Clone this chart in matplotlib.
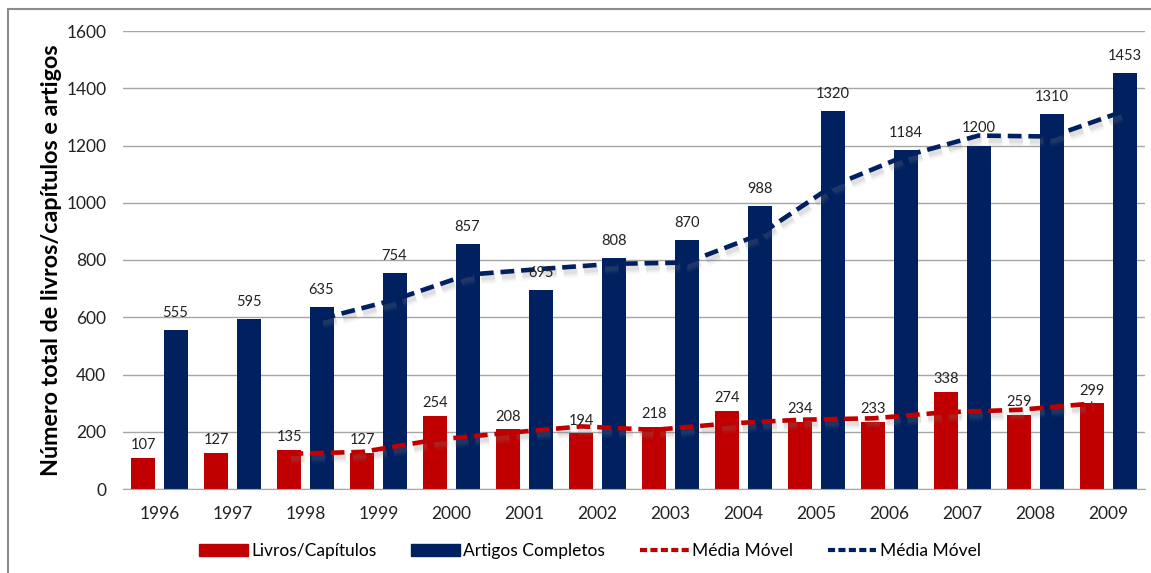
import numpy as np
import pandas as pd
import matplotlib
matplotlib.use("Agg")
import matplotlib.pyplot as plt
import matplotlib.patheffects as pe
from matplotlib.lines import Line2D
from matplotlib.patches import Patch, Rectangle

plt.rcParams["font.family"] = ["Lato", "DejaVu Sans"]

anos = [1996, 1997, 1998, 1999, 2000, 2001, 2002, 2003, 2004, 2005, 2006, 2007, 2008, 2009]
livros = [107, 127, 135, 127, 254, 208, 194, 218, 274, 234, 233, 338, 259, 299]
artigos = [555, 595, 635, 754, 857, 695, 808, 870, 988, 1320, 1184, 1200, 1310, 1453]

VERMELHO = "#C00000"
AZUL = "#002060"

# media movel de 3 periodos, como a linha de tendencia do Excel
mm_livros = pd.Series(livros).rolling(3).mean()
mm_artigos = pd.Series(artigos).rolling(3).mean()

fig = plt.figure(figsize=(11.51, 5.73), dpi=100)
ax = fig.add_axes([123 / 1151, 1 - 489 / 573, 1022 / 1151, 458 / 573])

x = np.arange(len(anos))
larg = 0.33
off = 0.22
ax.bar(x - off, livros, width=larg, color=VERMELHO, zorder=2)
ax.bar(x + off, artigos, width=larg, color=AZUL, zorder=2)

for xi, v in zip(x, livros):
    ax.text(xi - off, v + 45, str(v), ha="center", va="center", fontsize=10.5, color="#222222", zorder=4)
for xi, v in zip(x, artigos):
    ax.text(xi + off, v + 60, str(v), ha="center", va="center", fontsize=10.5, color="#222222", zorder=4)

# sombra suave: varias camadas largas e transparentes
sombra = [pe.SimpleLineShadow(offset=(1, -3), shadow_color="#7F7F7F", alpha=a, linewidth=w)
          for a, w in [(0.06, 9), (0.08, 6.5), (0.12, 4)]] + [pe.Normal()]
traco = (0, (3.0, 1.5))
ax.plot(x - off, mm_livros, color=VERMELHO, lw=3.3, ls=traco, zorder=3, path_effects=sombra)
ax.plot(x + off, mm_artigos, color=AZUL, lw=3.3, ls=traco, zorder=3, path_effects=sombra)

ax.set_xlim(-0.5, len(anos) - 0.5)
ax.set_ylim(0, 1600)
ax.set_yticks(range(0, 1601, 200))
ax.set_xticks(x)
ax.set_xticklabels([str(a) for a in anos])
ax.tick_params(axis="both", length=0, labelsize=12.5, colors="#222222")
ax.tick_params(axis="x", pad=12)
ax.tick_params(axis="y", pad=12)
ax.yaxis.grid(True, color="#A6A6A6", lw=1)
ax.set_axisbelow(True)
for s in ["top", "right", "left"]:
    ax.spines[s].set_visible(False)
ax.spines["bottom"].set_color("#A6A6A6")
ax.spines["bottom"].set_zorder(5)

ax.set_ylabel("Número total de livros/capítulos e artigos", fontsize=16.8, fontweight="bold", labelpad=3)

handles = [
    Patch(color=VERMELHO, label="Livros/Capítulos"),
    Patch(color=AZUL, label="Artigos Completos"),
    Line2D([], [], color=VERMELHO, lw=3, ls=(0, (1.7, 0.8)), label="Média Móvel"),
    Line2D([], [], color=AZUL, lw=3, ls=(0, (1.7, 0.8)), label="Média Móvel"),
]
fig.legend(handles=handles, loc="center", bbox_to_anchor=(590 / 1151, 1 - 551 / 573), ncol=4,
           frameon=False, fontsize=12.5, handlelength=2.8, handleheight=0.7, handletextpad=0.2,
           columnspacing=2.0)

# moldura do grafico
fig.patches.append(Rectangle((8 / 1151, -0.05), 1.2, 1 - 9 / 573 + 0.05, transform=fig.transFigure,
                             fill=False, edgecolor="#8C8C8C", lw=1.5))

fig.savefig("out.png", dpi=100)
